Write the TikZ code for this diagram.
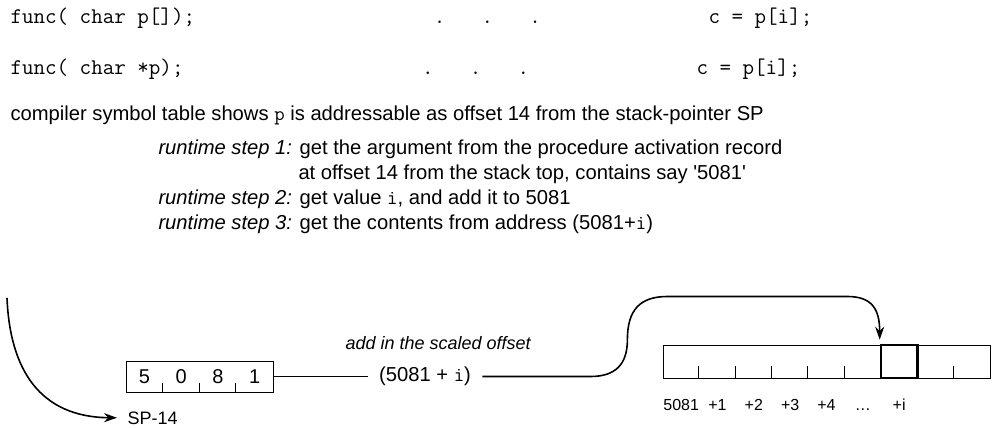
\documentclass[tikz,border=0pt]{standalone}
\usepackage{fontspec}
\setmainfont{Liberation Sans}
\usetikzlibrary{arrows.meta}

\newcommand*{\cv}[1]{{\ttfamily #1}}

\begin{document}
\begin{tikzpicture}[x=1pt,y=-1pt,>={Stealth[length=13pt,width=9pt]},line width=1pt,
	txt/.style={anchor=base west,inner sep=0pt,font=\fontsize{20.2}{24}\selectfont},
	code/.style={txt,font=\fontsize{22.4}{26}\selectfont\ttfamily},
	small/.style={inner sep=0pt,font=\fontsize{18}{22}\selectfont},
	curve/.style={line width=1.6pt}]

\useasboundingbox (0,0) rectangle (997,428);

\node[code] (code1) at (10,24) {func( char p[]);};
\node[code] (dots1) at (433.4,24) {.\hspace{36.24pt}.\hspace{36.24pt}.};
\node[code] (use1) at (708,24) {c = p[i];};

\node[code] (code2) at (10,75) {func( char *p);};
\node[code] (dots2) at (421.6,75) {.\hspace{36.24pt}.\hspace{36.24pt}.};
\node[code] (use2) at (696,75) {c = p[i];};

\node[txt] (symtab) at (10,121) {compiler symbol table shows \cv{p} is addressable as offset 14 from the stack-pointer SP};
\node[txt] (step1) at (158,154) {\textit{runtime step 1:} get the argument from the procedure activation record};
\node[txt] (step1b) at (298,179) {at offset 14 from the stack top, contains say \textquotesingle 5081\textquotesingle};
\node[txt] (step2) at (158,204) {\textit{runtime step 2:} get value \cv{i}, and add it to 5081};
\node[txt] (step3) at (158,229) {\textit{runtime step 3:} get the contents from address (5081+\cv{i})};

\node[draw,minimum width=147pt,minimum height=31pt,inner sep=0pt] (pbox) at (199.5,376.5) {};
\foreach \d [count=\k] in {5,0,8,1}
	\node[font=\fontsize{20}{24}\selectfont,inner sep=0pt] (digit\k) at ({126+36.75*(\k-0.5)},376.5) {\d};
\foreach \k in {1,2,3}
	\draw ([xshift=\k*36.75pt]pbox.south west) -- ++(0,-10);

\node[small,anchor=base west] (sp) at (127,424) {SP-14};
\coordinate (top) at (7,298);
\draw[curve,->] (top) .. controls (10,370) and (40,417) .. ([xshift=-10pt]sp.west);

\node[font=\fontsize{20.2}{24}\selectfont,inner xsep=11pt,inner ysep=0pt] (sum) at (425,376.5) {(5081 + \cv{i})};
\draw (pbox.east) -- (sum.west);
\node[small,anchor=base west,font=\fontsize{18}{22}\selectfont\itshape] (scaled) at (345,349) {add in the scaled offset};

\node[draw,minimum width=327pt,minimum height=33pt,inner sep=0pt] (mem) at (826.5,361.5) {};
\foreach \k in {1,2,3,4,5,8}
	\draw ([xshift=\k*36.33pt]mem.south west) -- ++(0,-13);
\node[draw,line width=2.6pt,minimum width=36.33pt,minimum height=33pt,inner sep=0pt] (ci) at ({663+6.5*36.33},361.5) {};
\foreach \t [count=\k] in {5081,+1,+2,+3,+4,\ldots,+i}
	\node[font=\fontsize{16}{19}\selectfont,anchor=base,inner sep=0pt] (off\k) at ({663+36.33*(\k-0.5)},410) {\t};

\draw[curve,->] (sum.east) -- ++(108,0) .. controls +(25,0) and +(0,25) .. ++(37,-37) .. controls +(0,-30) and +(-27,0) .. ++(40,-43) -- ++(180,0) .. controls +(25,0) and +(0,-30) .. ([yshift=4pt]ci.north west);

\end{tikzpicture}
\end{document}
